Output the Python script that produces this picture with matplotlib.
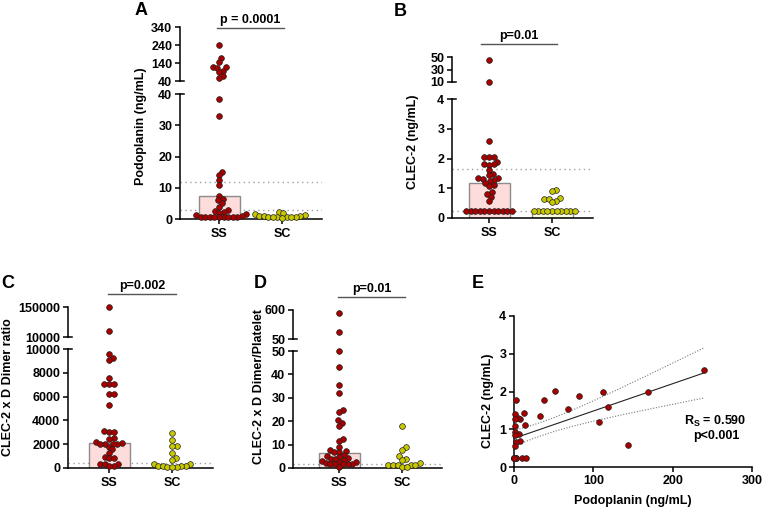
import numpy as np
import matplotlib
matplotlib.use("Agg")
import matplotlib.pyplot as plt

plt.rcParams["font.family"] = ["Liberation Sans", "DejaVu Sans"]
plt.rcParams["font.weight"] = "bold"
plt.rcParams["axes.labelweight"] = "bold"
plt.rcParams["mathtext.fontset"] = "custom"
plt.rcParams["mathtext.bf"] = "Liberation Sans:bold"
plt.rcParams["mathtext.rm"] = "Liberation Sans:bold"
plt.rcParams["mathtext.default"] = "bf"

# ---- data ----
groups = ["SS", "SC"]

# A: Podoplanin (ng/mL)
pdpn_ss = [240, 168, 146, 118, 115, 112, 97, 88, 70, 55,
           38.5, 33, 15.2, 14, 12.5, 11, 7.5, 6.5, 6, 5, 3.8, 2.8, 2.5, 2.2, 2, 1.5,
           1.2, 1.0, 0.8, 0.6, 0.6, 0.5, 0.5, 0.5, 0.5, 0.5, 0.5]
pdpn_sc = [2.1, 1.8, 1.5, 1.2, 1.0, 1.0, 0.9, 0.8, 0.6, 0.5, 0.5, 0.5, 0.5, 0.4]
pdpn_bar = [7.5]
pdpn_ref = [12, 3]

# B: CLEC-2 (ng/mL)
clec_ss = [45, 9.5, 2.58, 2.06, 2.06, 2.04, 1.89, 1.81, 1.80, 1.78, 1.62, 1.49, 1.45,
           1.36, 1.34, 1.30, 1.27, 1.25, 1.18, 1.10, 1.08, 0.87, 0.80, 0.72, 0.58] + [0.25] * 11
clec_sc = [0.95, 0.91, 0.66, 0.65, 0.64, 0.57, 0.53] + [0.25] * 10
clec_bar = [1.17, 0.25]
clec_ref = [1.65, 0.25]

# C: CLEC-2 x D Dimer ratio
ratio_ss = [148000, 40000, 9580, 9220, 9080, 7540, 7040, 7040, 7040, 6200, 6200, 5300,
            3070, 3020, 3020, 2510, 2460, 2150, 2100, 2050, 2050, 2050, 2000, 1800,
            1560, 1280, 920, 800, 800, 360, 360, 320, 200, 150]
ratio_sc = [2960, 2320, 1870, 1820, 1300, 840, 700, 330, 330, 200, 140, 140, 140, 120, 100, 80]
ratio_bar = [2100]
ratio_ref = [380]

# D: CLEC-2 x D Dimer/Platelet
plt_ss = [550, 183, 49.9, 43.3, 35.4, 32.2, 25, 23.9, 20.3, 19.3, 17.9, 12.6, 11.5, 8.8,
          7.5, 7.2, 7.0, 6.8, 5.5, 5.3, 4.8, 4.2, 4.0, 3.8, 3.5, 2.8, 2.6, 2.5, 2.2,
          1.8, 1.6, 1.6, 1.6, 1.6, 0.6]
plt_sc = [17.9, 8.8, 7.8, 5.0, 4.0, 3.5, 2.0, 1.3, 1.2, 1.2, 1.2, 1.1, 0.5, 0.5]
plt_bar = [6.2]
plt_ref = [1.7]

# E: correlation (several SS patients overlap at CLEC-2 = 0.25 near zero podoplanin)
e_pdpn = [239, 169, 119, 112, 107, 144, 82, 68, 52, 38, 33, 12, 14, 7, 5, 6, 7, 2,
          1, 1, 1, 1, 1, 2, 1, 0.5, 3, 10, 15, 0.5, 0.5, 1, 1, 0.5, 3, 0.5]
e_clec = [2.57, 1.99, 1.58, 2.0, 1.19, 0.59, 1.88, 1.53, 2.02, 1.78, 1.36, 1.44, 1.11,
          1.27, 1.30, 0.88, 0.70, 1.78, 1.40, 1.26, 1.09, 0.94, 0.84, 0.65, 0.55,
          0.25, 0.25, 0.25, 0.25, 0.25, 0.25, 0.25, 0.25, 0.25, 0.25, 0.25]

RED = "#A80000"
YEL = "#C8C800"
W, H = 762, 509
fig = plt.figure(figsize=(W / 100, H / 100), dpi=100)

over = fig.add_axes([0, 0, 1, 1])
over.set_xlim(0, W)
over.set_ylim(H, 0)
over.axis("off")


def box(l, t, r, b):
    return fig.add_axes([l / W, 1 - b / H, (r - l) / W, (b - t) / H])


def style(ax):
    for s in ["top", "right"]:
        ax.spines[s].set_visible(False)
    for s in ["left", "bottom"]:
        ax.spines[s].set_linewidth(1.1)
    ax.tick_params(labelsize=9, width=1.1, length=3.5, pad=2)
    ax.patch.set_alpha(0)


def swarm(ax, center, vals, d=4.6):
    vals = np.asarray(vals, float)
    ys = ax.transData.transform(np.column_stack([np.full(len(vals), center), vals]))[:, 1]
    offs = np.zeros(len(vals))
    placed = []
    for i in np.argsort(ys):
        y = ys[i]
        near = [(px, py) for px, py in placed if abs(py - y) < d]
        cands = [0.0]
        for px, py in near:
            dx = np.sqrt(d * d - (py - y) ** 2)
            cands += [px + dx, px - dx]
        cands.sort(key=abs)
        for c in cands:
            if all((c - px) ** 2 + (y - py) ** 2 >= d * d - 1e-6 for px, py in near):
                break
        placed.append((c, y))
        offs[i] = c
    ppu = ax.transData.transform([(1, 0)])[0][0] - ax.transData.transform([(0, 0)])[0][0]
    return center + offs / ppu


def dots(ax, x, y, color):
    ax.scatter(x, y, s=17, color=color, edgecolor="#222222", linewidth=0.5,
               zorder=5, clip_on=False)


def broken(x0, x1, ss_px, sc_px, up, lo, up_lim, lo_lim, up_ticks, lo_ticks,
           ss, sc, bars, refs):
    step = sc_px - ss_px
    xlim = (1 - (ss_px - x0) / step, 2 + (x1 - sc_px) / step)
    ax_u = box(x0, up[0], x1, up[1])
    ax_l = box(x0, lo[0], x1, lo[1])
    for ax in (ax_u, ax_l):
        style(ax)
        ax.set_xlim(*xlim)
    ax_u.set_ylim(*up_lim)
    ax_l.set_ylim(*lo_lim)
    ax_u.spines["bottom"].set_visible(False)
    ax_u.set_xticks([])
    ax_u.set_yticks(up_ticks)
    ax_l.set_yticks(lo_ticks)
    ax_l.set_xticks([1, 2])
    ax_l.set_xticklabels(groups)
    ax_l.tick_params(axis="x", labelsize=9, pad=3)
    # break marks
    w = 4 / (x1 - x0)
    ax_u.plot([0, w], [0, 0], transform=ax_u.transAxes, color="black", lw=1.1, clip_on=False)
    ax_l.plot([0, w], [1, 1], transform=ax_l.transAxes, color="black", lw=1.1, clip_on=False)
    # bars
    fills = ["#FFDCDC", "#FDFCDC"]
    for i, h in enumerate(bars):
        ax_l.bar(i + 1, h, width=41 / step, color=fills[i], edgecolor="#8C8C8C",
                 linewidth=1, zorder=2)
    for r in refs:
        ax_l.axhline(r, color="#A0A0A0", lw=1, ls=(0, (1, 2.5)), zorder=1)
    cut = lo_lim[1]
    for k, (vals, col) in enumerate([(ss, RED), (sc, YEL)]):
        vals = np.asarray(vals, float)
        hi = vals[vals > cut]
        low = vals[vals <= cut]
        if len(hi):
            dots(ax_u, swarm(ax_u, k + 1, hi), hi, col)
        dots(ax_l, swarm(ax_l, k + 1, low), low, col)
    return ax_u, ax_l


# A
broken(180, 322, 219, 282, (27, 81), (94, 219), (40, 340), (0, 40),
       [40, 140, 240, 340], [0, 10, 20, 30, 40], pdpn_ss, pdpn_sc, pdpn_bar, pdpn_ref)
# B
broken(452, 593, 489, 552, (57, 82), (99, 218), (10, 50), (0, 4),
       [10, 30, 50], [0, 1, 2, 3, 4], clec_ss, clec_sc, clec_bar, clec_ref)
# C
broken(68, 213, 109, 172, (307, 337), (349, 468), (10000, 150000), (0, 10000),
       [10000, 150000], [0, 2000, 4000, 6000, 8000, 10000], ratio_ss, ratio_sc,
       ratio_bar, ratio_ref)
# D
broken(293, 442, 339, 402, (310, 339), (351, 468), (50, 600), (0, 50),
       [50, 600], [0, 10, 20, 30, 40, 50], plt_ss, plt_sc, plt_bar, plt_ref)

# E
axe = box(514, 316, 752, 467)
style(axe)
axe.set_xlim(0, 300)
axe.set_ylim(0, 4)
axe.set_xticks([0, 100, 200, 300])
axe.set_yticks([0, 1, 2, 3, 4])
ex = np.array(e_pdpn, float)
ey = np.array(e_clec, float)
slope, icpt = np.polyfit(ex, ey, 1)
n = len(ex)
resid = ey - (icpt + slope * ex)
s = np.sqrt(np.sum(resid ** 2) / (n - 2))
xx = np.linspace(0, ex.max(), 100)
yy = icpt + slope * xx
half = 2.03 * s * np.sqrt(1 / n + (xx - ex.mean()) ** 2 / np.sum((ex - ex.mean()) ** 2))
axe.plot(xx, yy, color="#222222", lw=0.8, zorder=3)
axe.plot(xx, yy + half, color="#777777", lw=0.8, ls=(0, (1, 1.5)), zorder=3)
axe.plot(xx, yy - half, color="#777777", lw=0.8, ls=(0, (1, 1.5)), zorder=3)
dots(axe, ex, ey, RED)

# labels and annotations
fs = 9
over.text(141, 10, "A", fontsize=13, ha="center", va="center")
over.text(400, 11, "B", fontsize=13, ha="center", va="center")
over.text(8, 284, "C", fontsize=13, ha="center", va="center")
over.text(260, 283, "D", fontsize=13, ha="center", va="center")
over.text(478, 284, "E", fontsize=13, ha="center", va="center")

over.text(141, 126, "Podoplanin (ng/mL)", rotation=90, fontsize=fs, ha="center", va="center")
over.text(413, 142, "CLEC-2 (ng/mL)", rotation=90, fontsize=fs, ha="center", va="center")
over.text(8, 387, "CLEC-2 x D Dimer ratio", rotation=90, fontsize=fs, ha="center", va="center")
over.text(259, 387, "CLEC-2 x D Dimer/Platelet", rotation=90, fontsize=fs, ha="center", va="center")
over.text(488, 401, "CLEC-2 (ng/mL)", rotation=90, fontsize=fs, ha="center", va="center")
over.text(633, 501, "Podoplanin (ng/mL)", fontsize=fs, ha="center", va="center")

pvals = [("p = 0.0001", 217, 284, 28), ("p=0.01", 481, 557, 44),
         ("p=0.002", 108, 176, 294), ("p=0.01", 338, 405, 297)]
for txt, a, b, y in pvals:
    over.plot([a, b], [y, y], color="#555555", lw=1)
    over.text((a + b) / 2, y - 2, txt, fontsize=fs, ha="center", va="bottom")

over.text(715, 421, r"R$_\mathbf{S}$ = 0.590", fontsize=fs, ha="center", va="center")
over.text(716, 436, "p<0.001", fontsize=fs, ha="center", va="center")

fig.savefig("out.png", dpi=100)
